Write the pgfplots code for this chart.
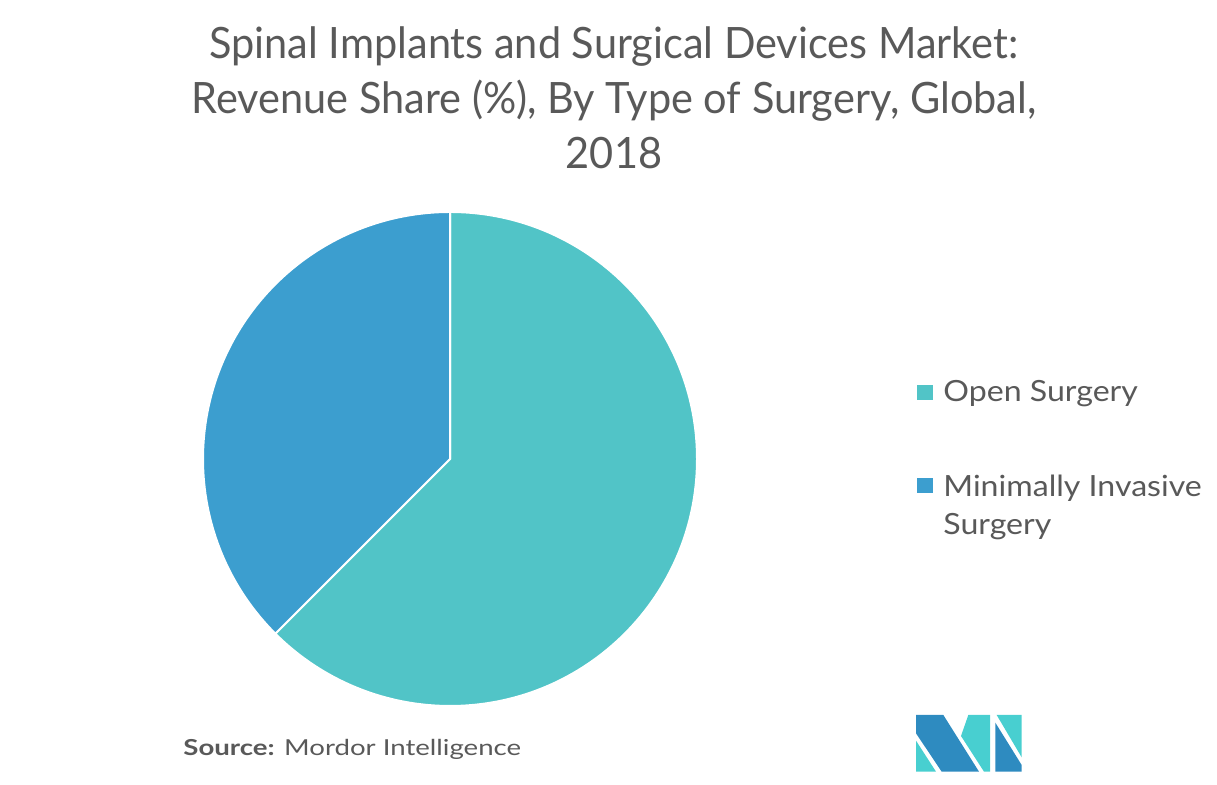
\documentclass[border=0pt]{standalone}
\usepackage{pgfplots}
\pgfplotsset{compat=1.18}
\usepackage{pgfplotstable}
\usepackage{fontspec}
\setmainfont{Lato}
\newfontfamily\titlefont[FakeStretch=0.96]{Lato}
\newfontfamily\legfont[FakeStretch=1.1]{Lato}
\newfontfamily\srcfont[FakeStretch=1.255]{Lato}
\definecolor{openc}{RGB}{81,196,199}
\definecolor{misc}{RGB}{60,158,207}
\definecolor{txt}{RGB}{89,89,89}
\definecolor{logod}{RGB}{46,139,192}
\definecolor{logot}{RGB}{72,207,208}
\pgfplotstableread{
label share
Open 62.5
MIS 37.5
}\sharetable
\begin{document}
\begin{tikzpicture}[x=0.5pt,y=0.5pt]
\path[use as bounding box] (0,0) rectangle (1217,785);
\pgfplotstablegetelem{0}{share}\of\sharetable \let\shA\pgfplotsretval
\pgfplotstablegetelem{1}{share}\of\sharetable \let\shB\pgfplotsretval
\pgfmathsetmacro\angA{90-3.6*\shA}
\pgfmathsetmacro\angB{\angA-3.6*\shB}
\pgfmathsetmacro\cA{cos(\angA)}
\pgfmathsetmacro\sA{sin(\angA)}
% title
\node[anchor=base,text=txt,font=\titlefont\fontsize{21.6pt}{24pt}\selectfont] at (614,726) {Spinal Implants and Surgical Devices Market:};
\node[anchor=base,text=txt,font=\titlefont\fontsize{21.6pt}{24pt}\selectfont] at (614,671) {Revenue Share (\%), By Type of Surgery, Global,};
\node[anchor=base,text=txt,font=\titlefont\fontsize{21.6pt}{24pt}\selectfont] at (614,616) {2018};
\begin{axis}[at={(225pt,163pt)},anchor=center,x=123.5pt,y=123.5pt,
  xmin=-1,xmax=1,ymin=-1,ymax=1,hide axis,clip=false]
\fill[openc,draw=white,line width=1pt] (axis cs:0,0) -- (axis cs:0,1) arc[start angle=90,end angle=\angA,radius=123.5pt] -- cycle;
\fill[misc,draw=white,line width=1pt] (axis cs:0,0) -- (axis cs:\cA,\sA) arc[start angle=\angA,end angle=\angB,radius=123.5pt] -- cycle;
\end{axis}
% legend
\fill[openc] (917,385) rectangle (933,400);
\node[anchor=base west,inner sep=0pt,text=txt,font=\legfont\fontsize{14.6pt}{17pt}\selectfont] at (943,383) {Open Surgery};
\fill[misc] (917,292) rectangle (933,307);
\node[anchor=base west,inner sep=0pt,text=txt,font=\legfont\fontsize{14.6pt}{17pt}\selectfont] at (943,288) {Minimally Invasive};
\node[anchor=base west,inner sep=0pt,text=txt,font=\legfont\fontsize{14.6pt}{17pt}\selectfont] at (943,250) {Surgery};
% source
\node[anchor=base west,inner sep=0pt,text=txt,font=\srcfont\fontsize{11pt}{13pt}\selectfont] at (183,29) {\textbf{Source:} Mordor Intelligence};
% logo
\begin{scope}[shift={(900,85)},x=0.5pt/3,y=-0.5pt/3]
\fill[logod] (48,45) -- (130,45) -- (237,215) -- (125,215) -- (48,100) -- cycle;
\fill[logot] (48,122) -- (48,215) -- (108,215) -- cycle;
\fill[logot] (205,45) -- (270,45) -- (270,215) -- (252,215) -- (183,108) -- cycle;
\fill[logot] (290,45) -- (365,45) -- (365,172) -- cycle;
\fill[logod] (286,68) -- (365,195) -- (365,215) -- (286,215) -- cycle;
\end{scope}
\end{tikzpicture}
\end{document}
